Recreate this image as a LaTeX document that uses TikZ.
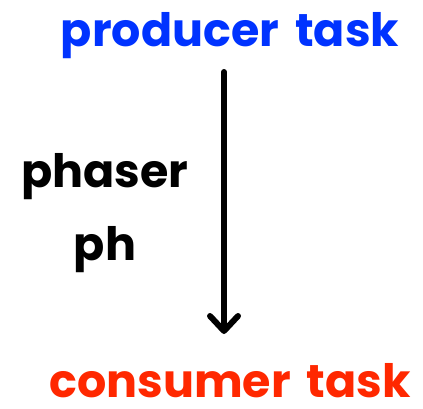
\documentclass[tikz,border=0pt]{standalone}
\usepackage{fontspec}
\setmainfont{Poppins}
\usetikzlibrary{positioning, arrows.meta, calc}
\definecolor{prodblue}{RGB}{0,51,255}
\definecolor{consred}{RGB}{255,40,0}
\tikzset{
  tasklabel/.style={
    inner sep=0pt,
    anchor=base,
    text depth=0pt,
    font=\fontsize{46}{52}\selectfont\bfseries
  },
  sidelabel/.style={
    inner sep=0pt,
    anchor=base,
    align=center,
    font=\fontsize{46}{73}\selectfont\bfseries
  },
  flow/.style={
    line width=6pt,
    line cap=round,
    -{Straight Barb[length=15pt, width=28pt, round]}
  }
}
\begin{document}
\begin{tikzpicture}[x=1pt, y=-1pt]
  \useasboundingbox (0,0) rectangle (423,409);
  \node[tasklabel, text=prodblue] (producer) at (230,47) {producer\hspace{16pt}task};
  \node[tasklabel, text=consred] (consumer) at (230,397) {consumer\hspace{16pt}task};
  \node[sidelabel] (phaser) at (105,260) {phaser\\ph};

  % strzalka
  \coordinate (top) at ([xshift=-6pt]producer.base);
  \draw[flow, shorten <=25pt] (top) -- (top |- 0,334);
\end{tikzpicture}
\end{document}
